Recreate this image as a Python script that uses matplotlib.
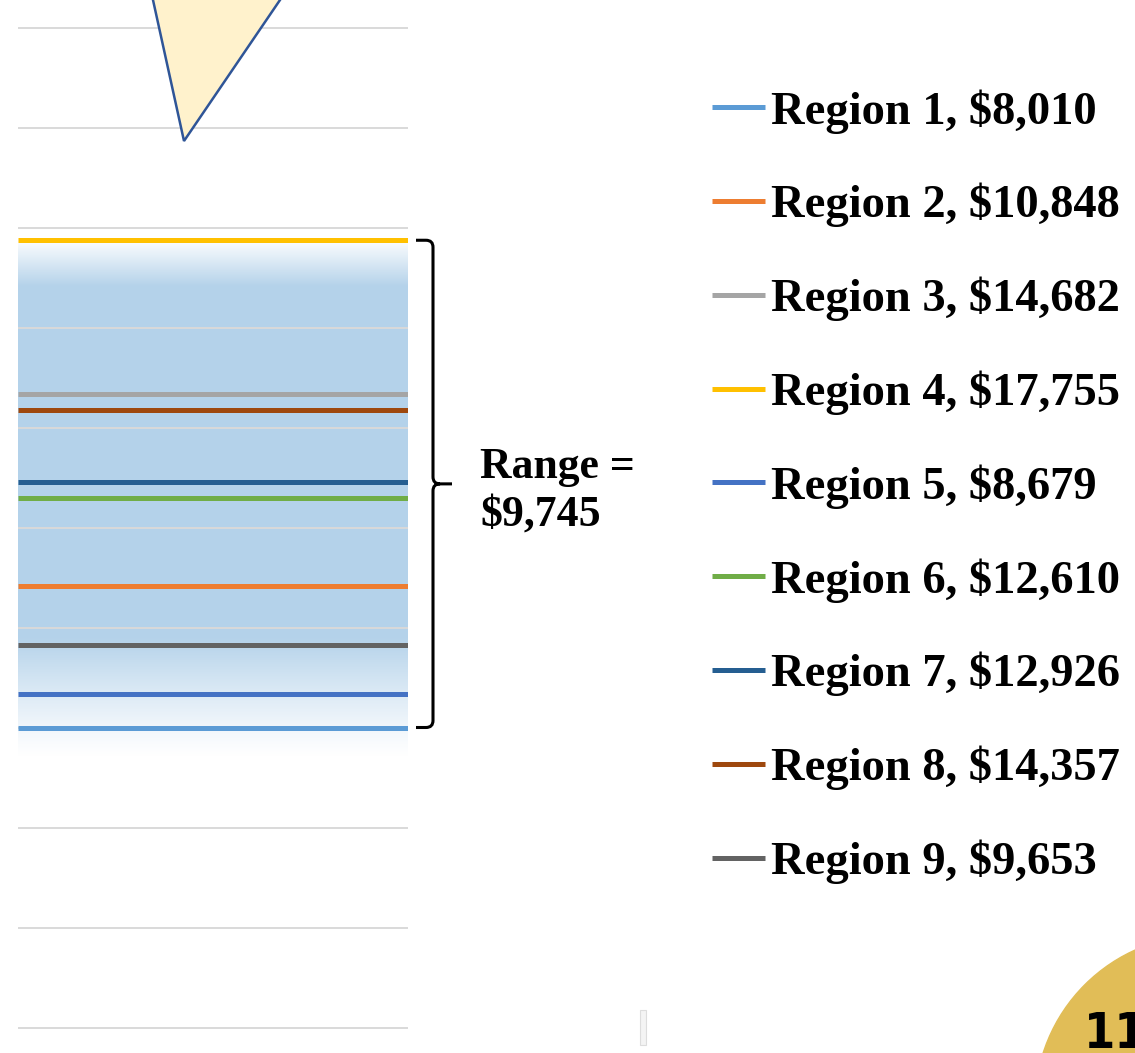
import numpy as np
import matplotlib.pyplot as plt
from matplotlib.patches import Polygon, Circle, PathPatch, Rectangle
from matplotlib.path import Path

# datos
regions = ['Region 1', 'Region 2', 'Region 3', 'Region 4', 'Region 5',
           'Region 6', 'Region 7', 'Region 8', 'Region 9']
values = [8010, 10848, 14682, 17755, 8679, 12610, 12926, 14357, 9653]
colors = ['#5B9BD5', '#ED7D31', '#A5A5A5', '#FFC000', '#4472C4',
          '#70AD47', '#255E91', '#9E480E', '#636363']
grid_values = list(range(2000, 22001, 2000))
page_number = '11'

W, H = 1135, 1053
fig = plt.figure(figsize=(W / 100, H / 100), dpi=100)
fig.patch.set_facecolor('white')

# eje principal (solo el area de lineas)
ax = fig.add_axes([18 / W, 0, (408 - 18) / W, 1])
ax.set_xlim(0, 1)
ax.set_ylim(1500, 22560)
ax.axis('off')

for g in grid_values:
    ax.axhline(g, color='#D9D9D9', lw=1.4, zorder=2)

# banda azul con degradado
vmax, vmin = max(values), min(values)
lo, hi = vmin - 600, vmax + 50
yy = np.linspace(lo, hi, 400)
alpha = np.ones_like(yy)
alpha = np.minimum(alpha, np.clip((hi - yy) / 950, 0, 1))
alpha = np.minimum(alpha, np.clip((yy - lo) / 2400, 0, 1) ** 1.2)
img = np.zeros((len(yy), 1, 4))
img[:, 0, 0] = 0.706
img[:, 0, 1] = 0.824
img[:, 0, 2] = 0.918
img[:, 0, 3] = alpha
ax.imshow(img, extent=[0, 1, lo, hi], origin='lower', aspect='auto', zorder=1,
          interpolation='bilinear')

lines = []
for r, v, c in zip(regions, values, colors):
    ln, = ax.plot([0, 1], [v, v], color=c, lw=3.6, zorder=3,
                  label=f'{r}, ${v:,}', solid_capstyle='butt')
    lines.append(ln)

# capa en pixeles para anotaciones
ov = fig.add_axes([0, 0, 1, 1], zorder=5)
ov.set_xlim(0, W)
ov.set_ylim(0, H)
ov.axis('off')
ov.patch.set_alpha(0)

def ypix(v):
    return ax.transData.transform((0, v))[1]

# llave del rango
yt, yb = ypix(vmax), ypix(vmin)
ym = (yt + yb) / 2
xl, xv, xt = 416, 433, 452
r = 7
verts = [(xl, yt), (xv - r, yt), (xv, yt), (xv, yt - r),
         (xv, ym + r), (xv, ym), (xv + r, ym), (xt, ym),
         (xv + r, ym), (xv, ym), (xv, ym - r),
         (xv, yb + r), (xv, yb), (xv - r, yb), (xl, yb)]
codes = [Path.MOVETO, Path.LINETO, Path.CURVE3, Path.CURVE3,
         Path.LINETO, Path.CURVE3, Path.CURVE3, Path.LINETO,
         Path.MOVETO, Path.CURVE3, Path.CURVE3,
         Path.LINETO, Path.CURVE3, Path.CURVE3, Path.LINETO]
ov.add_patch(PathPatch(Path(verts, codes), facecolor='none', edgecolor='black', lw=2.2))

ov.text(480, ym - 7, f'Range =\n${vmax - vmin:,}', ha='left', va='center',
        family='Liberation Serif', weight='bold', fontsize=31.5, linespacing=1.27)

# triangulo (llamada)
tri = [(148.6, H + 20), (293.6, H + 20), (184, H - 141)]
ov.add_patch(Polygon(tri, closed=True, facecolor='#FFF2CC', edgecolor='#2F5597', lw=1.8))

# circulo con numero de pagina
ov.add_patch(Circle((1205, H - 1105), 170, color='#E1BD57'))
ov.text(1084, 5, page_number, ha='left', va='baseline', fontsize=36,
        weight='bold', family='DejaVu Sans', fontstretch='condensed', color='black')

ov.add_patch(Rectangle((640, H - 1045), 6, 35, facecolor='#F4F4F4', edgecolor='#DDDDDD', lw=0.8))

leg = fig.legend(handles=lines, loc='upper left', bbox_to_anchor=(712 / W, 1 - 89 / H),
                 frameon=False, handlelength=1.14, handletextpad=0.12, borderaxespad=0,
                 borderpad=0, labelspacing=1.06,
                 prop={'family': 'Liberation Serif', 'weight': 'bold', 'size': 33.5})
for h in leg.legend_handles:
    h.set_linewidth(3.6)

fig.savefig('out.png', dpi=100)
